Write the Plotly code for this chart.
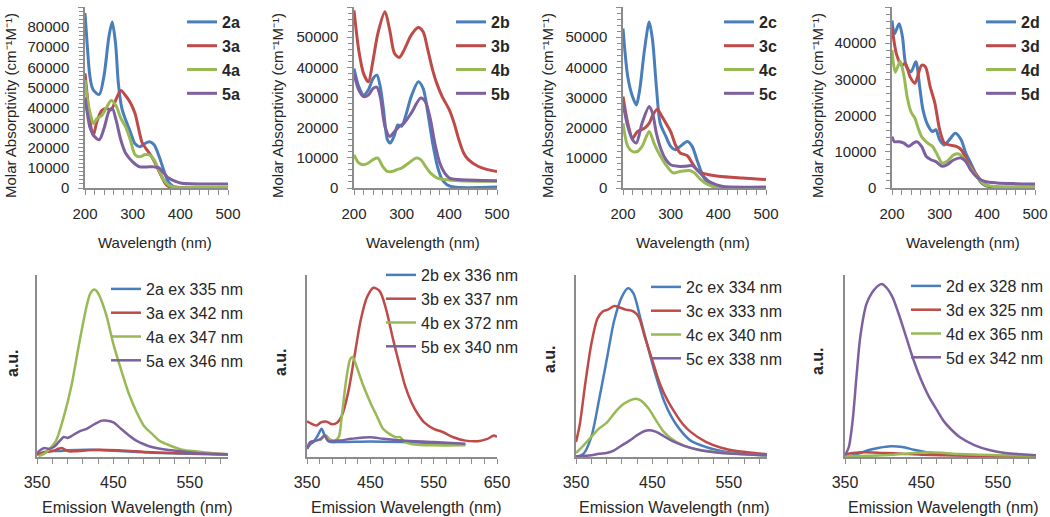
import plotly.graph_objects as go

# ---------------- Absorption data (top row) ----------------
wl_2a = [200,205,210,215,220,230,240,250,257,264,270,277,285,295,305,315,325,335,345,355,365,375,385,400,450,500]
ab_2a = [87000,70000,56000,50000,48000,46500,56000,75000,82500,72000,52000,40000,34000,28000,22000,20500,22000,23000,21500,16000,9000,3000,800,200,0,0]
wl_3a = [200,205,210,217,225,235,245,255,265,275,285,295,305,312,320,330,340,350,360,370,380,400,450,500]
ab_3a = [57000,45000,34000,26000,33000,38500,39500,39000,44000,48500,46000,42500,37000,30000,22500,19000,15500,11000,6000,1800,300,0,0,0]
wl_4a = [200,205,210,218,225,235,245,255,265,275,285,295,305,315,325,335,345,355,365,375,390,420,500]
ab_4a = [53700,44000,38000,32000,34500,36000,40000,43500,41000,34700,30500,24000,16500,15500,16500,16500,14000,9000,4000,1500,300,200,200]
wl_5a = [200,205,210,220,230,240,250,257,265,275,285,300,315,330,345,355,365,375,390,400,420,460,500]
ab_5a = [45000,37000,30500,25600,24000,29700,38000,39700,34000,24000,17400,13000,10500,10500,10500,10000,7500,5000,3300,2500,2100,2000,2000]

wl_2b = [200,210,220,230,240,248,255,262,270,276,285,292,300,310,320,335,345,355,365,375,385,395,410,500]
ab_2b = [39600,33600,30800,32500,36300,37400,33600,25900,16000,14900,17600,20900,20500,24800,30300,35200,33000,24800,14900,7200,2800,1100,300,300]
wl_3b = [200,210,220,230,240,250,265,275,285,295,305,320,335,345,355,365,375,385,400,410,420,430,440,460,480,500]
ab_3b = [58900,45700,38000,35200,42400,51200,58400,52300,44600,43300,45700,50700,53200,51800,45700,39100,34100,30300,25900,21500,16000,11600,9400,7200,6100,5500]
wl_4b = [200,210,220,230,240,250,260,270,280,290,300,315,330,340,350,360,375,390,420,500]
ab_4b = [11000,8300,7700,8300,9400,9900,7200,5500,5500,6100,6600,8300,9900,9400,7200,5000,3300,2800,2400,2200]
wl_5b = [200,210,220,230,240,248,255,265,275,285,295,305,320,340,350,360,370,380,390,400,420,500]
ab_5b = [38000,32500,30300,30800,33000,33400,30300,20400,17100,18700,20400,21500,24800,29800,28500,23000,14500,8300,5000,3300,2800,2400]

wl_2c = [200,210,220,228,235,245,255,262,270,278,290,300,310,320,335,345,355,365,375,385,400,500]
ab_2c = [52900,36900,30300,27500,32500,45700,55000,49000,33600,21500,17100,13800,12700,13800,15400,13800,9400,5000,2200,800,300,200]
wl_3c = [200,210,220,230,245,255,262,272,280,290,300,310,320,335,345,355,365,380,400,450,500]
ab_3c = [30300,21500,16500,18700,19800,21500,24000,26100,24200,21500,18700,14300,11600,10700,8300,6100,5000,4400,3900,3300,2800]
wl_4c = [200,210,220,230,240,255,265,275,290,305,320,340,350,360,375,390,410,500]
ab_4c = [21500,13800,12100,12100,13800,18700,14900,11600,7700,5000,5500,5800,5000,3300,1400,500,200,200]
wl_5c = [200,210,220,228,240,255,262,270,280,290,300,315,330,345,355,365,380,395,410,500]
ab_5c = [28100,20400,16000,14900,21500,27000,24800,18200,12700,9400,7700,7200,7200,7400,6100,4400,2200,1100,500,300]

wl_2d = [200,205,215,222,230,240,250,258,265,275,285,292,300,310,320,333,345,355,365,375,385,395,410,500]
ab_2d = [46300,42600,45400,41700,33500,32100,34900,28000,21600,17400,15600,16100,13300,11900,13300,15100,13300,9600,6900,4100,1800,700,300,200]
wl_3d = [200,210,220,228,238,248,262,270,280,290,300,310,320,335,345,355,365,380,395,410,500]
ab_3d = [44500,36700,33900,34400,30700,28900,33900,33500,28000,23400,16100,12400,11900,11500,10600,8300,6000,3200,900,300,200]
wl_4d = [200,207,217,225,232,240,248,255,262,275,285,295,305,315,330,340,350,365,380,395,410,500]
ab_4d = [38100,32000,35000,31000,25000,21000,19300,16500,14200,12400,11500,9200,6900,7300,9200,9400,8300,5500,2800,900,500,300]
wl_5d = [200,205,215,225,235,245,252,262,272,282,292,305,315,330,345,355,365,380,395,420,460,500]
ab_5d = [14200,12800,12800,12400,11500,12400,12800,11500,8700,7800,7300,6000,6400,7800,8300,7300,5000,2800,1800,1400,1200,1100]

# ---------------- Emission data (bottom row, a.u.) ----------------
ex_2a = [350,360,370,380,390,420,450,500,550,600]
em_2a = [0.013,0.028,0.033,0.033,0.037,0.04,0.035,0.024,0.018,0.013]
ex_3a = [350,360,370,378,382,387,392,400,430,460,500,550,600]
em_3a = [0.013,0.026,0.033,0.045,0.05,0.04,0.031,0.032,0.04,0.036,0.026,0.02,0.015]
ex_4a = [352,360,368,375,385,395,405,415,420,425,430,440,450,460,470,480,490,500,510,520,540,560,580,600]
em_4a = [0.005,0.02,0.05,0.09,0.22,0.39,0.62,0.83,0.9,0.92,0.9,0.79,0.62,0.48,0.35,0.25,0.17,0.13,0.09,0.07,0.04,0.03,0.02,0.015]
ex_5a = [350,355,360,365,372,378,385,390,395,405,415,425,435,440,450,460,470,480,490,500,520,540,560,600]
em_5a = [0.02,0.04,0.05,0.045,0.055,0.08,0.11,0.105,0.115,0.14,0.155,0.18,0.20,0.20,0.19,0.155,0.12,0.09,0.07,0.055,0.04,0.03,0.02,0.015]

ex_2b = [350,355,360,367,373,378,385,400,450,500,550,600]
em_2b = [0.045,0.07,0.082,0.118,0.155,0.118,0.085,0.082,0.085,0.082,0.076,0.067]
ex_3b = [350,360,365,372,380,390,398,405,415,425,435,445,455,465,475,485,495,505,515,525,535,550,565,580,600,620,635,645,650]
em_3b = [0.196,0.178,0.173,0.19,0.195,0.18,0.19,0.227,0.355,0.555,0.755,0.88,0.93,0.91,0.81,0.66,0.52,0.39,0.30,0.236,0.19,0.155,0.136,0.11,0.09,0.087,0.1,0.118,0.11]
ex_4b = [370,380,385,393,400,405,412,418,422,428,438,450,460,470,480,490,497,505,520,550,600]
em_4b = [0.09,0.118,0.1,0.09,0.109,0.227,0.427,0.536,0.55,0.5,0.4,0.3,0.227,0.155,0.127,0.109,0.109,0.082,0.069,0.064,0.064]
ex_5b = [350,355,365,372,378,383,400,420,450,470,500,550,600]
em_5b = [0.045,0.082,0.09,0.1,0.12,0.09,0.09,0.1,0.109,0.1,0.09,0.082,0.073]

ex_2c = [350,360,370,380,390,400,410,418,425,435,445,455,465,475,485,500,520,540,560,600]
em_2c = [0.0,0.018,0.11,0.31,0.53,0.75,0.88,0.927,0.9,0.75,0.59,0.44,0.31,0.22,0.156,0.09,0.055,0.033,0.022,0.009]
ex_3c = [350,355,362,370,378,385,392,400,408,415,425,432,440,450,460,470,480,490,500,520,540,560,580,600]
em_3c = [0.083,0.18,0.40,0.62,0.76,0.80,0.81,0.83,0.82,0.81,0.80,0.77,0.66,0.53,0.40,0.31,0.24,0.18,0.138,0.083,0.051,0.033,0.024,0.015]
ex_4c = [350,360,370,380,390,400,410,420,428,435,445,455,465,475,490,510,540,570,600]
em_4c = [0.022,0.064,0.11,0.156,0.187,0.24,0.284,0.31,0.32,0.31,0.266,0.2,0.138,0.1,0.064,0.04,0.024,0.015,0.009]
ex_5c = [350,370,380,390,400,410,420,430,440,447,455,465,475,490,510,540,570,600]
em_5c = [0.004,0.009,0.018,0.022,0.037,0.064,0.09,0.12,0.143,0.147,0.138,0.114,0.09,0.064,0.04,0.022,0.015,0.009]

ex_2d = [350,360,370,380,395,410,425,440,455,470,500,550,600]
em_2d = [0.004,0.009,0.022,0.037,0.051,0.059,0.055,0.04,0.028,0.018,0.009,0.005,0.004]
ex_3d = [350,360,375,400,425,450,500,550,600]
em_3d = [0.015,0.022,0.026,0.022,0.018,0.013,0.008,0.005,0.004]
ex_4d = [350,400,430,460,480,500,550,600]
em_4d = [0.004,0.009,0.018,0.026,0.022,0.016,0.01,0.007]
ex_5d = [350,355,360,365,370,378,385,392,398,405,412,420,430,440,450,460,470,480,490,500,520,540,560,580,600]
em_5d = [0.009,0.055,0.2,0.44,0.66,0.84,0.9,0.936,0.95,0.927,0.88,0.79,0.66,0.53,0.42,0.33,0.26,0.193,0.147,0.11,0.064,0.037,0.022,0.015,0.009]

# ---------------- Labels ----------------
panels = ["a", "b", "c", "d"]
compounds = ["2", "3", "4", "5"]
ex_labels = {
    "a": ["335", "342", "347", "346"],
    "b": ["336", "337", "372", "340"],
    "c": ["334", "333", "340", "338"],
    "d": ["328", "325", "365", "342"],
}
abs_ymax = {"a": 90000, "b": 60000, "c": 60000, "d": 50000}
em_xmax = {"a": 600, "b": 650, "c": 600, "d": 600}
abs_ytitle = "Molar Absorptivity (cm\u207b\u00b9M\u207b\u00b9)"

colors = ["#4A7EBB", "#BE4B48", "#98B954", "#7D60A0"]
FONT = "Liberation Sans, Arial, sans-serif"
TXT = "#262626"
AXC = "#8C8C8C"

W, H = 1050, 517
def px(x):
    return x / W
def py(y):
    return 1 - y / H

g = globals()

# geometry (pixels)
top_dom_x = {"a": (85, 228), "b": (354, 497), "c": (623, 766), "d": (892, 1035)}
bot_dom_x = {"a": (37, 228), "b": (307, 497), "c": (576, 767), "d": (845, 1036)}
top_dom_y = (7, 188)
bot_dom_y = (275, 457)

top_leg = {"a": (182, 5), "b": (451, 5), "c": (719, 5), "d": (981, 5)}
bot_leg = {"a": (106, 272), "b": (381, 258), "c": (646, 270), "d": (906, 269)}

ytitle_top_x = {"a": 10, "b": 277, "c": 547, "d": 817}
xtitle_top_x = {"a": 155, "b": 423, "c": 693, "d": 963}
xtitle_bot_x = {"a": 137, "b": 406, "c": 674, "d": 943}
au_pos = {"a": (12, 363), "b": (280, 362), "c": (549, 359), "d": (817, 361)}

fig = go.Figure()
layout = dict(
    width=W, height=H, autosize=False,
    margin=dict(l=0, r=0, t=0, b=0, autoexpand=False),
    paper_bgcolor="white", plot_bgcolor="white",
    font=dict(family=FONT, size=15, color=TXT),
    showlegend=True,
)
annotations = []

axis_common = dict(
    showgrid=False, zeroline=False, showline=True, linecolor=AXC, linewidth=1.5,
    ticks="outside", ticklen=5, tickwidth=1, tickcolor=AXC,
    tickfont=dict(family=FONT, size=15, color=TXT),
)

for i, p in enumerate(panels):
    # ----- top (absorption) -----
    n = i + 1
    xa = "xaxis" if n == 1 else f"xaxis{n}"
    ya = "yaxis" if n == 1 else f"yaxis{n}"
    leg = "legend" if n == 1 else f"legend{n}"
    for j, c in enumerate(compounds):
        fig.add_trace(go.Scatter(
            x=g[f"wl_{c}{p}"], y=g[f"ab_{c}{p}"], mode="lines",
            line=dict(color=colors[j], width=3, shape="spline", smoothing=0.8),
            name=f"{c}{p}", legend=leg, legendgroup=f"t{p}{c}",
            xaxis=f"x{n}" if n > 1 else "x", yaxis=f"y{n}" if n > 1 else "y",
        ))
    layout[xa] = dict(axis_common, domain=[px(top_dom_x[p][0]), px(top_dom_x[p][1])],
                      anchor=f"y{n}" if n > 1 else "y", range=[200, 500], dtick=100, tick0=0,
                      minor=dict(dtick=20, ticks="outside", ticklen=5, tickcolor=AXC),
                      ticklabelstandoff=6)
    layout[ya] = dict(axis_common, domain=[py(top_dom_y[1]), py(top_dom_y[0])],
                      anchor=f"x{n}" if n > 1 else "x", range=[0, abs_ymax[p]], dtick=10000,
                      tickformat="d",
                      minor=dict(dtick=2000, ticks="outside", ticklen=4, tickcolor=AXC),
                      ticklabelstandoff=6)
    lx, ly = top_leg[p]
    layout[leg] = dict(x=px(lx), y=py(ly), xanchor="left", yanchor="top",
                       bgcolor="rgba(0,0,0,0)", tracegroupgap=0,
                       font=dict(family=FONT, size=16, color=TXT, weight="bold"))
    annotations.append(dict(text=abs_ytitle,
                            x=px(ytitle_top_x[p]), y=py(106), xref="paper", yref="paper",
                            textangle=-90, showarrow=False, xanchor="center", yanchor="middle",
                            font=dict(family=FONT, size=15, color=TXT)))
    annotations.append(dict(text="Wavelength (nm)", x=px(xtitle_top_x[p]), y=py(243),
                            xref="paper", yref="paper", showarrow=False,
                            xanchor="center", yanchor="middle",
                            font=dict(family=FONT, size=15, color=TXT)))

    # ----- bottom (emission) -----
    m = i + 5
    xa = f"xaxis{m}"
    ya = f"yaxis{m}"
    leg = f"legend{m}"
    for j, c in enumerate(compounds):
        fig.add_trace(go.Scatter(
            x=g[f"ex_{c}{p}"], y=g[f"em_{c}{p}"], mode="lines",
            line=dict(color=colors[j], width=2.5, shape="spline", smoothing=0.8),
            name=f"{c}{p} ex {ex_labels[p][j]} nm", legend=leg, legendgroup=f"b{p}{c}",
            xaxis=f"x{m}", yaxis=f"y{m}",
        ))
    layout[xa] = dict(axis_common, domain=[px(bot_dom_x[p][0]), px(bot_dom_x[p][1])],
                      anchor=f"y{m}", range=[350, em_xmax[p]], dtick=100, tick0=350,
                      minor=dict(dtick=20, tick0=350, ticks="outside", ticklen=5, tickcolor=AXC),
                      tickfont=dict(family=FONT, size=16, color=TXT),
                      ticklabelstandoff=5)
    layout[ya] = dict(showgrid=False, zeroline=False, showline=True, linecolor=AXC, linewidth=1.5,
                      showticklabels=False, ticks="",
                      domain=[py(bot_dom_y[1]), py(bot_dom_y[0])],
                      anchor=f"x{m}", range=[0, 1])
    lx, ly = bot_leg[p]
    layout[leg] = dict(x=px(lx), y=py(ly), xanchor="left", yanchor="top",
                       bgcolor="rgba(0,0,0,0)", tracegroupgap=0,
                       font=dict(family=FONT, size=16, color=TXT))
    annotations.append(dict(text="Emission Wavelength (nm)", x=px(xtitle_bot_x[p]), y=py(507),
                            xref="paper", yref="paper", showarrow=False,
                            xanchor="center", yanchor="middle",
                            font=dict(family=FONT, size=16, color=TXT)))
    annotations.append(dict(text="a.u.", x=px(au_pos[p][0]), y=py(au_pos[p][1]),
                            xref="paper", yref="paper", showarrow=False, textangle=-90,
                            xanchor="center", yanchor="middle",
                            font=dict(family=FONT, size=16, color=TXT, weight="bold")))

layout["annotations"] = annotations
fig.update_layout(**layout)
fig.write_html("out.html",
               config={"displayModeBar": False},
               post_script="document.body.style.margin='0';document.body.style.overflow='hidden';")
